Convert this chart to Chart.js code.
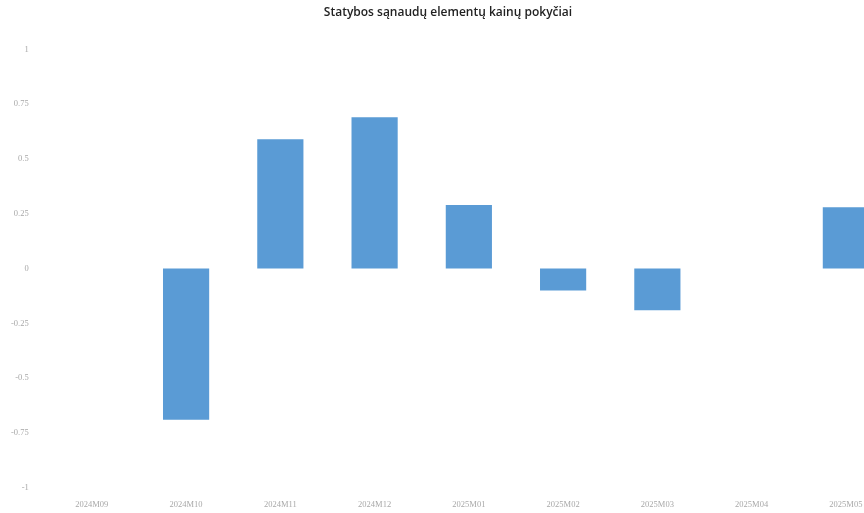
<!DOCTYPE html>
<html>
<head>
<meta charset="utf-8">
<script src="https://cdn.jsdelivr.net/npm/chart.js@4"></script>
<style>
    html, body { margin: 0; padding: 0; background: #fff; overflow: hidden; }
    #wrap { width: 893px; height: 514px; position: relative; }
</style>
</head>
<body>
<div id="wrap"><canvas id="chart"></canvas></div>
<script>
// Months shown on the x axis
const months = ['2024M09', '2024M10', '2024M11', '2024M12', '2025M01', '2025M02', '2025M03', '2025M04', '2025M05'];

// Price change values (null = no bar)
const changes = [null, -0.69, 0.59, 0.69, 0.29, -0.1, -0.19, null, 0.28];

// Y axis range and step
const yMin = -1;
const yMax = 1;
const yStep = 0.25;

const tickFont = { family: 'Liberation Serif, DejaVu Serif, serif', size: 8.5 };

const ctx = document.getElementById('chart').getContext('2d');

new Chart(ctx, {
    type: 'bar',
    data: {
        labels: months,
        datasets: [{
            data: changes,
            backgroundColor: '#5a9bd5',
            borderWidth: 0,
            categoryPercentage: 1,
            barPercentage: 0.49
        }]
    },
    options: {
        responsive: true,
        maintainAspectRatio: false,
        animation: false,
        layout: {
            padding: { top: 5, right: 0, bottom: 0, left: 3 }
        },
        scales: {
            x: {
                grid: { display: false },
                border: { display: false },
                ticks: {
                    color: '#a8a8a8',
                    font: tickFont,
                    padding: 4,
                    maxRotation: 0
                }
            },
            y: {
                min: yMin,
                max: yMax,
                grid: { display: false },
                border: { display: false },
                ticks: {
                    stepSize: yStep,
                    color: '#a8a8a8',
                    font: tickFont,
                    padding: 8,
                    callback: v => String(v)
                }
            }
        },
        plugins: {
            legend: { display: false },
            tooltip: { enabled: false },
            title: {
                display: true,
                text: 'Statybos sąnaudų elementų kainų pokyčiai',
                color: '#222',
                font: { family: 'Open Sans, sans-serif', size: 12, weight: '600' },
                padding: { top: 0, bottom: 30 }
            }
        }
    }
});
</script>
</body>
</html>
